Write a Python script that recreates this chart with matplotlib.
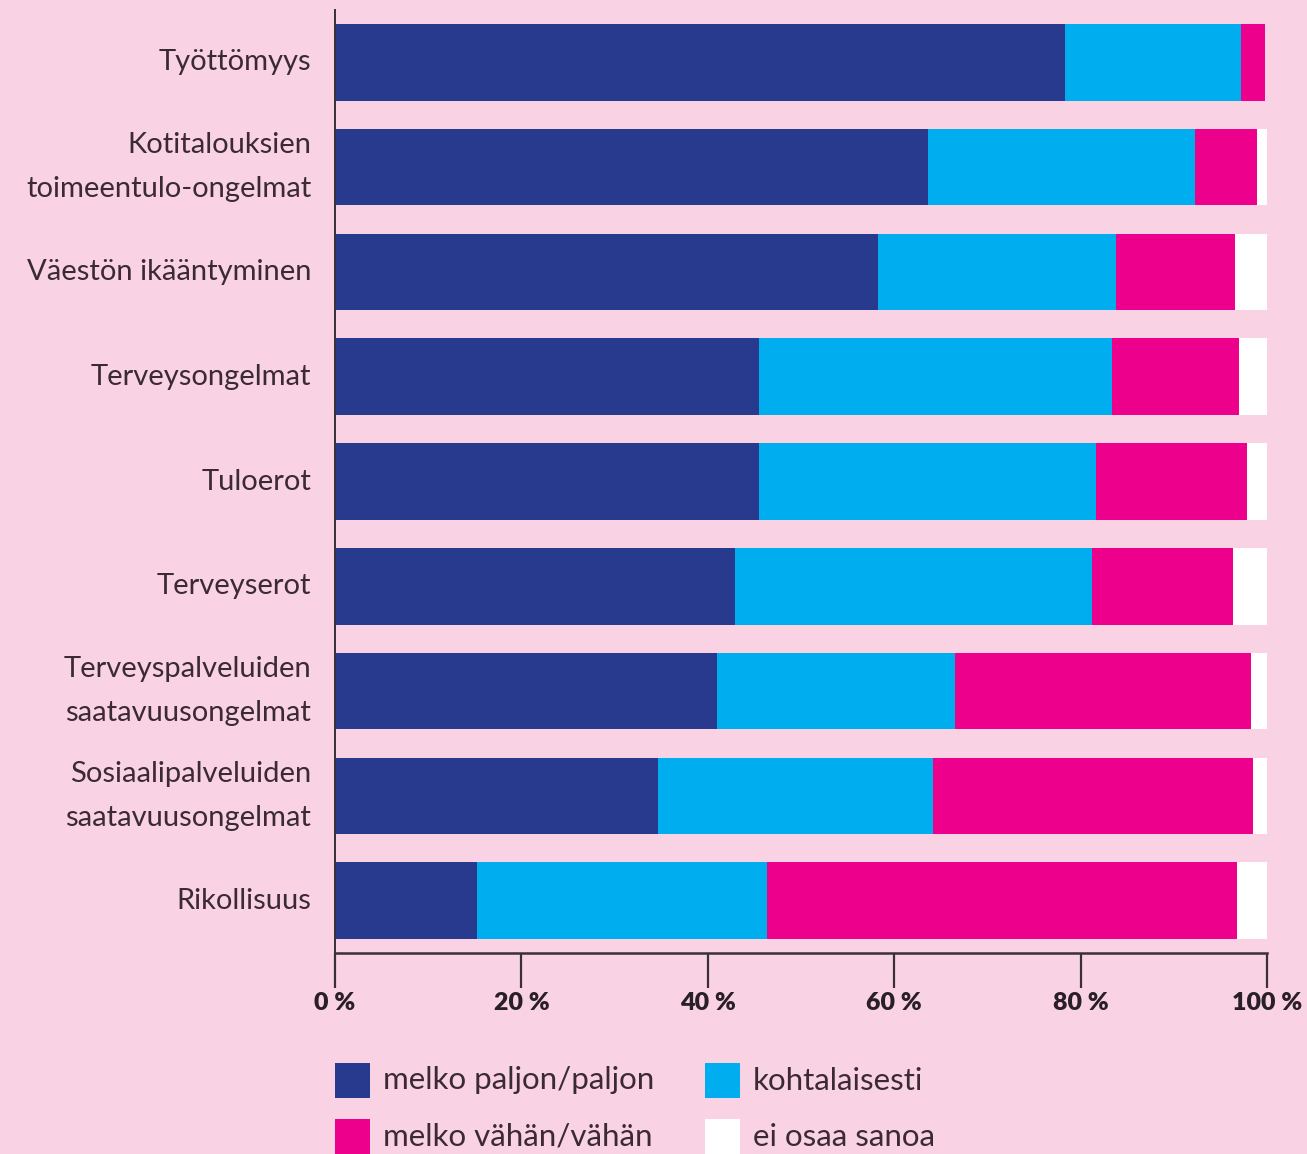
import matplotlib
matplotlib.use("Agg")
import matplotlib.pyplot as plt
from matplotlib.patches import Rectangle

categories = [
    "Työttömyys",
    "Kotitalouksien\ntoimeentulo-ongelmat",
    "Väestön ikääntyminen",
    "Terveysongelmat",
    "Tuloerot",
    "Terveyserot",
    "Terveyspalveluiden\nsaatavuusongelmat",
    "Sosiaalipalveluiden\nsaatavuusongelmat",
    "Rikollisuus",
]
paljon = [78.3, 63.6, 58.3, 45.5, 45.5, 42.9, 41.0, 34.7, 15.2]
kohtalaisesti = [18.9, 28.7, 25.5, 37.9, 36.2, 38.3, 25.5, 29.5, 31.2]
vahan = [2.6, 6.6, 12.8, 13.6, 16.2, 15.2, 31.8, 34.3, 50.4]
eos = [0.0, 1.1, 3.4, 3.0, 2.1, 3.6, 1.7, 1.5, 3.2]
series_labels = ["melko paljon/paljon", "kohtalaisesti", "melko vähän/vähän", "ei osaa sanoa"]
xticks = [0, 20, 40, 60, 80, 100]
xtick_labels = ["0 %", "20 %", "40 %", "60 %", "80 %", "100 %"]

bg = "#F9D3E3"
colors = ["#283A8E", "#00ADEE", "#EC008C", "#FFFFFF"]
txt = "#3B2A35"

plt.rcParams["font.family"] = ["Lato", "DejaVu Sans"]

fig = plt.figure(figsize=(13.07, 11.54), dpi=100, facecolor=bg)
W, H = 1307, 1154
ax = fig.add_axes([335 / W, 1 - 953 / H, (1267 - 335) / W, (953 - 10) / H])
ax.set_facecolor(bg)

y = list(range(len(categories)))
left = [0.0] * len(categories)
for vals, c, lab in zip([paljon, kohtalaisesti, vahan, eos], colors, series_labels):
    ax.barh(y, vals, left=left, height=0.73, color=c, label=lab, linewidth=0)
    left = [l + v for l, v in zip(left, vals)]

ax.set_ylim(8.5, -0.5)
ax.set_xlim(0, 100)
ax.set_yticks(y)
ax.set_yticklabels(categories)
ax.set_xticks(xticks)
ax.set_xticklabels(xtick_labels)
ax.tick_params(axis="y", length=0, pad=17)
ax.tick_params(axis="x", length=25, width=1.6, color="#3a2f36", pad=3, direction="out")
for lab in ax.get_yticklabels():
    lab.set_fontsize(21)
    lab.set_color(txt)
    lab.set_linespacing(1.85)
    lab.set_horizontalalignment("right")
    lab.set_verticalalignment("center")
for lab in ax.get_xticklabels():
    lab.set_fontsize(18)
    lab.set_fontweight("heavy")
    lab.set_color("#2a1f28")

for s in ["top", "right"]:
    ax.spines[s].set_visible(False)
ax.spines["left"].set_color("#3a2f36")
ax.spines["left"].set_linewidth(1.4)
ax.spines["bottom"].set_color("#3a2f36")
ax.spines["bottom"].set_linewidth(1.8)

# legend, drawn manually in figure pixel coordinates
legend_items = [
    (series_labels[0], colors[0], 335, 1063),
    (series_labels[2], colors[2], 335, 1119),
    (series_labels[1], colors[1], 705, 1063),
    (series_labels[3], colors[3], 705, 1119),
]
sq = 35
for lab, c, px, py in legend_items:
    fig.patches.append(Rectangle((px / W, 1 - (py + sq) / H), sq / W, sq / H,
                                 transform=fig.transFigure, facecolor=c,
                                 edgecolor="none"))
    fig.text((px + sq + 13) / W, 1 - (py + sq / 2) / H, lab, fontsize=22.5,
             color=txt, va="center", ha="left")

fig.savefig("out.png", dpi=100, facecolor=bg)
